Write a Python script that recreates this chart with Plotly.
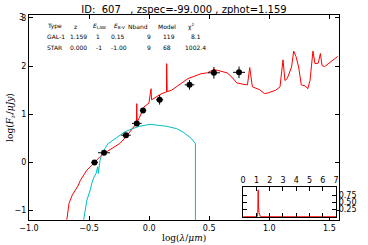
import plotly.graph_objects as go

# best-fit galaxy template (log wavelength in um, log flux in uJy)
wave_gal = [-0.685, -0.667, -0.640, -0.612, -0.593, -0.572, -0.545, -0.518, -0.477, -0.450,
            -0.409, -0.368, -0.315, -0.246, -0.193, -0.138, -0.106, -0.103, -0.100, -0.079,
            -0.043, -0.002, 0.016, 0.020, 0.051, 0.106, 0.144, 0.146, 0.150, 0.187,
            0.241, 0.323, 0.431, 0.485, 0.539, 0.593, 0.648, 0.689, 0.729, 0.789,
            0.818, 0.837, 0.851, 0.859, 0.919, 0.959, 0.986, 1.054, 1.089, 1.114,
            1.130, 1.149, 1.185, 1.203, 1.222, 1.244, 1.266, 1.298, 1.320, 1.339,
            1.363, 1.380, 1.407, 1.425, 1.439, 1.461, 1.569]
flux_gal = [-1.19, -0.85, -0.68, -0.57, -0.49, -0.37, -0.26, -0.16, -0.06, 0.01,
            0.12, 0.20, 0.29, 0.39, 0.53, 0.70, 0.81, 1.22, 0.84, 0.94,
            1.15, 1.23, 1.53, 1.30, 1.35, 1.43, 1.46, 2.05, 1.47, 1.50,
            1.60, 1.74, 1.84, 1.86, 1.93, 1.89, 1.86, 1.77, 1.65, 1.62,
            1.61, 1.97, 1.62, 1.57, 1.51, 1.43, 1.44, 1.50, 1.57, 2.13,
            1.70, 1.74, 1.98, 2.31, 2.20, 1.98, 1.61, 1.59, 1.53, 1.70,
            2.31, 2.05, 2.06, 2.26, 2.01, 1.99, 2.20]

# best-fit star template
wave_star = [-0.545, -0.531, -0.518, -0.490, -0.477, -0.458, -0.442, -0.428, -0.423, -0.409,
             -0.396, -0.368, -0.341, -0.301, -0.260, -0.206, -0.138, -0.084, 0.008, 0.146,
             0.230, 0.282, 0.350, 0.385, 0.385]
flux_star = [-1.19, -0.92, -0.78, -0.57, -0.43, -0.30, -0.23, -0.09, -0.23, 0.05,
             0.15, 0.29, 0.39, 0.46, 0.54, 0.63, 0.70, 0.75, 0.79, 0.75,
             0.70, 0.63, 0.50, 0.39, -1.25]

# observed photometry
obs_x = [-0.455, -0.376, -0.193, -0.103, -0.051, 0.087, 0.336, 0.539, 0.748]
obs_y = [0.00, 0.20, 0.565, 0.81, 1.08, 1.30, 1.61, 1.86, 1.87]
obs_xerr = [0.027, 0.05, 0.04, 0.04, 0.027, 0.03, 0.04, 0.05, 0.05]
obs_yerr = [0.03, 0.03, 0.03, 0.04, 0.04, 0.10, 0.10, 0.12, 0.12]

# photo-z probability distribution
z_pdf = [0.0, 1.05, 1.10, 1.13, 1.16, 1.19, 1.22, 1.25, 1.30, 7.0]
p_pdf = [0.0, 0.0, 0.10, 0.95, 0.35, 0.15, 0.08, 0.02, 0.0, 0.0]

# fit summary table
table_rows = [
    ["Type", "z", "<i>E</i><sub>LAW</sub>", "<i>E</i><sub>B-V</sub>", "Nband", "Model", "χ<sup>2</sup>"],
    ["GAL-1", "1.159", "1", "0.15", "9", "119", "8.1"],
    ["STAR", "0.000", "-1", "-1.00", "9", "68", "1002.4"],
]
col_x = [[45, 77, 101, 122, 140, 170, 195],
         [45, 79.5, 100, 120, 152, 172, 200],
         [45, 79.5, 101, 121, 152, 170, 199]]
row_y = [26, 36, 47]

L, R, T, B = 29, 22, 15, 25
W, H = 368, 245
pw, ph = W - L - R, H - T - B

def px(x):
    return (x - L) / pw

def py(y):
    return (H - B - y) / ph

fig = go.Figure()
fig.add_trace(go.Scatter(x=wave_gal, y=flux_gal, mode="lines",
                         line=dict(color="red", width=1), hoverinfo="skip"))
fig.add_trace(go.Scatter(x=wave_star, y=flux_star, mode="lines",
                         line=dict(color="#00bfbf", width=1), hoverinfo="skip"))
fig.add_trace(go.Scatter(x=obs_x, y=obs_y, mode="markers",
                         marker=dict(color="black", size=6),
                         error_x=dict(array=obs_xerr, color="black", thickness=1, width=0),
                         error_y=dict(array=obs_yerr, color="black", thickness=1, width=0)))
fig.add_trace(go.Scatter(x=z_pdf, y=p_pdf, mode="lines", xaxis="x2", yaxis="y2",
                         line=dict(color="red", width=1), hoverinfo="skip"))

ax = dict(showgrid=False, zeroline=False, showline=True, linecolor="black", linewidth=1,
          mirror="ticks", ticks="inside", ticklen=4, tickcolor="black",
          ticklabeloverflow="allow",
          tickfont=dict(family="DejaVu Sans", size=8, color="black"))

annotations = []
for r, row in enumerate(table_rows):
    for c, txt in enumerate(row):
        annotations.append(dict(text=txt, x=px(col_x[r][c]), y=py(row_y[r]),
                                xref="paper", yref="paper", showarrow=False,
                                xanchor="left" if c == 0 else "center", yanchor="middle",
                                font=dict(family="DejaVu Sans", size=6, color="black")))
annotations.append(dict(text="log(<i>λ</i>/<i>μm</i>)", x=0.5, y=py(238), xref="paper", yref="paper",
                        showarrow=False, xanchor="center", yanchor="middle",
                        font=dict(family="DejaVu Serif", size=9, color="black")))
annotations.append(dict(text="log(<i>F</i><sub><i>ν</i></sub>/<i>μJy</i>)", x=px(10), y=0.5,
                        xref="paper", yref="paper", showarrow=False, textangle=-90,
                        xanchor="center", yanchor="middle",
                        font=dict(family="DejaVu Serif", size=9, color="black")))
# top y tick label, which plotly drops at the upper edge
annotations.append(dict(text="3", x=px(26), y=3, xref="paper", yref="y",
                        showarrow=False, xanchor="right", yanchor="middle",
                        font=dict(family="DejaVu Sans", size=8, color="black")))

fig.update_layout(
    width=W, height=H, margin=dict(l=L, r=R, t=T, b=B),
    paper_bgcolor="white", plot_bgcolor="white", showlegend=False,
    title=dict(text="ID:\u00a0\u00a0607\u00a0\u00a0\u00a0, zspec=-99.000 , zphot=1.159",
               x=0.5, xref="paper", xanchor="center", y=1 - 9 / H, yref="container",
               yanchor="middle", font=dict(family="DejaVu Sans", size=10, color="black")),
    xaxis=dict(ax, range=[-1.0, 1.58], tickmode="linear", tick0=-1.0, dtick=0.5,
               tickformat=".1f", domain=[0, 1]),
    yaxis=dict(ax, range=[-1.195, 3.06], tickmode="linear", tick0=-1, dtick=1,
               domain=[0, 1]),
    xaxis2=dict(ax, range=[0, 7], dtick=1, side="top", anchor="y2",
                domain=[px(248), px(343)]),
    yaxis2=dict(ax, range=[-0.01, 1.05], tickvals=[0.25, 0.5, 0.75], tickformat=".2f",
                side="right", anchor="x2", domain=[py(217), py(187)]),
    annotations=annotations,
)

fig.write_html("out.html", config={"displayModeBar": False},
               post_script="document.body.style.margin='0';")
